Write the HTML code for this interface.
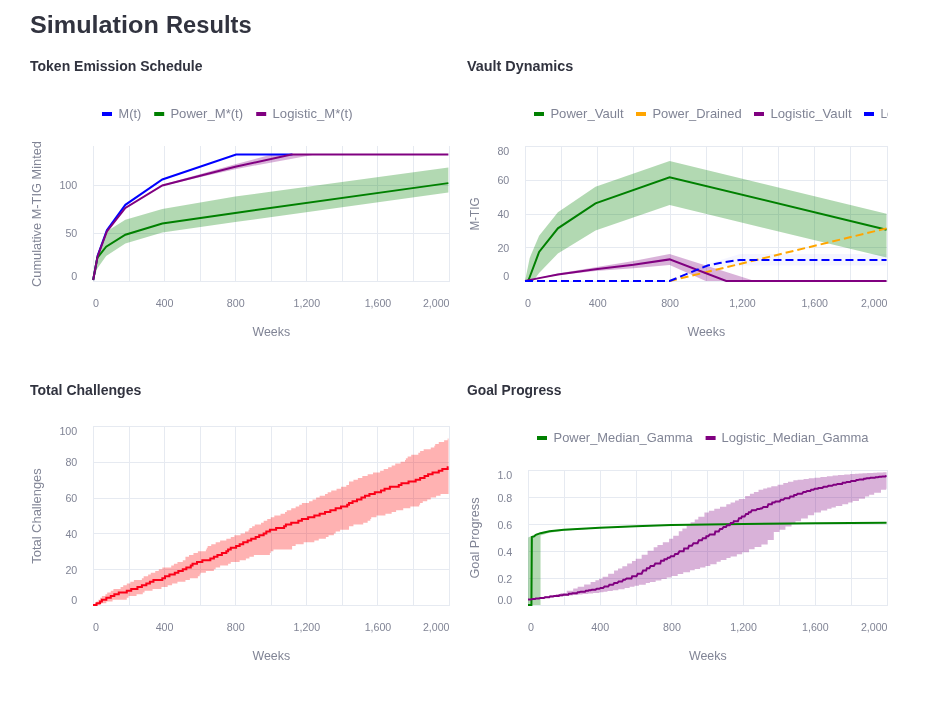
<!DOCTYPE html>
<html lang="en"><head><meta charset="utf-8"><title>Simulation Results</title>
<style>
html,body{margin:0;padding:0;background:#fff;}
body{width:935px;height:701px;position:relative;overflow:hidden;font-family:"Liberation Sans", sans-serif;color:#31333f;}
h1,h2{position:absolute;margin:0;white-space:nowrap;font-weight:700;line-height:1;transform-origin:0 0;}
h1{left:0;top:13.2px;font-size:24.4px;width:300px;height:25px;}
h1 span{position:absolute;top:0;transform-origin:0 0;display:block;}
#t1{left:29.9px;transform:scaleX(1.033);}#t2{left:165.9px;transform:scaleX(0.971);}
h2{font-size:14px;}
#h-a{left:30px;top:58.75px;}#h-b{left:467px;top:58.75px;transform:scaleX(1.027);}#h-c{left:30px;top:382.75px;transform:scaleX(1.003);}#h-d{left:467px;top:382.75px;transform:scaleX(0.987);}
svg{position:absolute;left:0;top:0;font-family:"Liberation Sans", sans-serif;}
</style></head><body>
<h1 id="h-t"><span id="t1">Simulation</span> <span id="t2">Results</span></h1>
<h2 id="h-a">Token Emission Schedule</h2>
<h2 id="h-b">Vault Dynamics</h2>
<h2 id="h-c">Total Challenges</h2>
<h2 id="h-d">Goal Progress</h2>
<svg width="935" height="701" viewBox="0 0 935 701" role="img" aria-label="Simulation charts">
<defs>
<clipPath id="clip2"><rect x="460" y="90" width="428" height="270"/></clipPath>
<clipPath id="clip4"><rect x="460" y="400" width="428" height="301"/></clipPath>
</defs>
<g id="chart-emission">
<path d="M93.50,146.00V282.00M129.50,146.00V282.00M164.50,146.00V282.00M200.50,146.00V282.00M235.50,146.00V282.00M271.50,146.00V282.00M306.50,146.00V282.00M342.50,146.00V282.00M377.50,146.00V282.00M413.50,146.00V282.00M449.50,146.00V282.00M93.00,281.50H450.00M93.00,233.50H450.00M93.00,185.50H450.00" fill="none" stroke="#e6eaf1" stroke-width="1"/>
<path d="M93.00,281.00L97.27,254.48L106.16,231.82L125.36,219.77L162.33,208.97L235.22,196.62L448.37,167.41L448.37,192.48L235.22,222.08L162.33,232.59L125.36,243.49L106.16,255.93L97.27,268.46L93.00,281.00Z" fill="green" fill-opacity="0.3"/>
<path d="M93.00,281.00L97.62,256.22L106.87,231.15L125.36,207.43L162.33,184.67L199.67,174.16L235.22,164.13L271.49,154.53L315.22,154.53L315.22,154.53L235.22,169.14L199.67,177.24L162.33,186.11L125.36,208.39L106.87,231.72L97.62,256.41L93.00,281.00Z" fill="purple" fill-opacity="0.3"/>
<path d="M93.18,280.04L97.62,255.64L106.87,230.23L125.36,204.84L162.33,179.46L236.11,154.53L292.46,154.53" fill="none" stroke="blue" stroke-width="2"/>
<path d="M93.18,280.04L97.27,257.86L106.16,246.67L125.36,234.71L162.33,223.43L235.22,212.92L448.37,183.12" fill="none" stroke="green" stroke-width="2"/>
<path d="M93.18,280.04L97.62,256.31L106.87,231.44L125.36,207.91L162.33,185.44L235.22,166.83L291.40,154.53L448.37,154.53" fill="none" stroke="purple" stroke-width="2"/>
<text x="93.00" y="306.65" font-size="10.8" text-anchor="start" fill="#808495" font-weight="normal" textLength="6.00" lengthAdjust="spacingAndGlyphs">0</text>
<text x="164.61" y="306.65" font-size="10.8" text-anchor="middle" fill="#808495" font-weight="normal" textLength="17.90" lengthAdjust="spacingAndGlyphs">400</text>
<text x="235.72" y="306.65" font-size="10.8" text-anchor="middle" fill="#808495" font-weight="normal" textLength="17.90" lengthAdjust="spacingAndGlyphs">800</text>
<text x="306.83" y="306.65" font-size="10.8" text-anchor="middle" fill="#808495" font-weight="normal" textLength="26.60" lengthAdjust="spacingAndGlyphs">1,200</text>
<text x="377.94" y="306.65" font-size="10.8" text-anchor="middle" fill="#808495" font-weight="normal" textLength="26.60" lengthAdjust="spacingAndGlyphs">1,600</text>
<text x="449.55" y="306.65" font-size="10.8" text-anchor="end" fill="#808495" font-weight="normal" textLength="26.60" lengthAdjust="spacingAndGlyphs">2,000</text>
<text x="271.27" y="336.40" font-size="12.6" text-anchor="middle" fill="#808495" font-weight="normal" textLength="37.70" lengthAdjust="spacingAndGlyphs">Weeks</text>
<text x="77.30" y="279.65" font-size="10.8" text-anchor="end" fill="#808495" font-weight="normal" textLength="6.00" lengthAdjust="spacingAndGlyphs">0</text>
<text x="77.30" y="237.14" font-size="10.8" text-anchor="end" fill="#808495" font-weight="normal" textLength="11.90" lengthAdjust="spacingAndGlyphs">50</text>
<text x="77.30" y="188.92" font-size="10.8" text-anchor="end" fill="#808495" font-weight="normal" textLength="17.90" lengthAdjust="spacingAndGlyphs">100</text>
<text transform="translate(41.20,214.00) rotate(-90)" font-size="12.6" text-anchor="middle" fill="#808495" textLength="146.00" lengthAdjust="spacingAndGlyphs">Cumulative M-TIG Minted</text>
<rect x="102.00" y="112.00" width="10" height="4" fill="blue"/>
<text x="118.60" y="118.00" font-size="12.6" text-anchor="start" fill="#808495" font-weight="normal" textLength="22.60" lengthAdjust="spacingAndGlyphs">M(t)</text>
<rect x="154.20" y="112.00" width="10" height="4" fill="green"/>
<text x="170.40" y="118.00" font-size="12.6" text-anchor="start" fill="#808495" font-weight="normal" textLength="72.70" lengthAdjust="spacingAndGlyphs">Power_M*(t)</text>
<rect x="256.20" y="112.00" width="10" height="4" fill="purple"/>
<text x="272.60" y="118.00" font-size="12.6" text-anchor="start" fill="#808495" font-weight="normal" textLength="80.00" lengthAdjust="spacingAndGlyphs">Logistic_M*(t)</text>
</g>
<g id="chart-vault" clip-path="url(#clip2)">
<path d="M525.50,146.00V282.00M561.50,146.00V282.00M597.50,146.00V282.00M633.50,146.00V282.00M670.50,146.00V282.00M706.50,146.00V282.00M742.50,146.00V282.00M778.50,146.00V282.00M814.50,146.00V282.00M850.50,146.00V282.00M887.50,146.00V282.00M525.00,281.50H888.00M525.00,247.50H888.00M525.00,214.50H888.00M525.00,180.50H888.00M525.00,146.50H888.00" fill="none" stroke="#e6eaf1" stroke-width="1"/>
<path d="M525.00,281.00L529.70,257.88L539.10,235.78L557.90,212.15L595.50,186.67L669.62,161.02L886.55,213.67L886.55,257.54L669.62,205.06L595.50,230.38L557.90,253.49L539.10,272.90L533.32,281.00L525.00,281.00Z" fill="green" fill-opacity="0.3"/>
<path d="M525.00,281.00L557.90,273.57L595.50,267.16L633.47,261.09L669.62,254.00L754.77,281.00L705.77,281.00L669.62,264.97L633.47,268.18L595.50,270.88L557.90,275.26L525.00,281.00Z" fill="purple" fill-opacity="0.3"/>
<path d="M669.62,281.00L707.58,264.12L739.76,254.00L886.55,254.00L886.55,265.48L739.76,265.48L707.58,267.50L669.62,281.00Z" fill="blue" fill-opacity="0.04"/>
<path d="M525.00,281.00L528.07,281.00L528.98,278.98L539.10,251.97L557.90,228.35L595.50,203.38L669.62,177.22L886.55,229.70" fill="none" stroke="green" stroke-width="2"/>
<path d="M525.00,281.00L669.62,281.00L886.55,228.35" fill="none" stroke="orange" stroke-width="2" stroke-dasharray="8,4"/>
<path d="M525.00,281.00L539.10,278.13L557.90,274.42L595.50,269.19L633.47,264.80L669.62,259.40L726.20,281.00L886.55,281.00" fill="none" stroke="purple" stroke-width="2"/>
<path d="M525.00,281.00L669.62,281.00L707.58,265.48L719.69,262.94L739.76,259.91L886.55,259.91" fill="none" stroke="blue" stroke-width="2" stroke-dasharray="8,4"/>
<text x="525.00" y="306.65" font-size="10.8" text-anchor="start" fill="#808495" font-weight="normal" textLength="6.00" lengthAdjust="spacingAndGlyphs">0</text>
<text x="597.81" y="306.65" font-size="10.8" text-anchor="middle" fill="#808495" font-weight="normal" textLength="17.90" lengthAdjust="spacingAndGlyphs">400</text>
<text x="670.12" y="306.65" font-size="10.8" text-anchor="middle" fill="#808495" font-weight="normal" textLength="17.90" lengthAdjust="spacingAndGlyphs">800</text>
<text x="742.43" y="306.65" font-size="10.8" text-anchor="middle" fill="#808495" font-weight="normal" textLength="26.60" lengthAdjust="spacingAndGlyphs">1,200</text>
<text x="814.74" y="306.65" font-size="10.8" text-anchor="middle" fill="#808495" font-weight="normal" textLength="26.60" lengthAdjust="spacingAndGlyphs">1,600</text>
<text x="887.55" y="306.65" font-size="10.8" text-anchor="end" fill="#808495" font-weight="normal" textLength="26.60" lengthAdjust="spacingAndGlyphs">2,000</text>
<text x="706.27" y="336.40" font-size="12.6" text-anchor="middle" fill="#808495" font-weight="normal" textLength="37.70" lengthAdjust="spacingAndGlyphs">Weeks</text>
<text x="509.30" y="279.65" font-size="10.8" text-anchor="end" fill="#808495" font-weight="normal" textLength="6.00" lengthAdjust="spacingAndGlyphs">0</text>
<text x="509.30" y="251.60" font-size="10.8" text-anchor="end" fill="#808495" font-weight="normal" textLength="11.90" lengthAdjust="spacingAndGlyphs">20</text>
<text x="509.30" y="217.85" font-size="10.8" text-anchor="end" fill="#808495" font-weight="normal" textLength="11.90" lengthAdjust="spacingAndGlyphs">40</text>
<text x="509.30" y="184.10" font-size="10.8" text-anchor="end" fill="#808495" font-weight="normal" textLength="11.90" lengthAdjust="spacingAndGlyphs">60</text>
<text x="509.30" y="154.95" font-size="10.8" text-anchor="end" fill="#808495" font-weight="normal" textLength="11.90" lengthAdjust="spacingAndGlyphs">80</text>
<text transform="translate(479.20,214.00) rotate(-90)" font-size="12.6" text-anchor="middle" fill="#808495" textLength="33.00" lengthAdjust="spacingAndGlyphs">M-TIG</text>
<rect x="534.00" y="112.00" width="10" height="4" fill="green"/>
<text x="550.40" y="118.00" font-size="12.6" text-anchor="start" fill="#808495" font-weight="normal" textLength="73.20" lengthAdjust="spacingAndGlyphs">Power_Vault</text>
<rect x="636.00" y="112.00" width="10" height="4" fill="orange"/>
<text x="652.40" y="118.00" font-size="12.6" text-anchor="start" fill="#808495" font-weight="normal" textLength="89.20" lengthAdjust="spacingAndGlyphs">Power_Drained</text>
<rect x="754.00" y="112.00" width="10" height="4" fill="purple"/>
<text x="770.40" y="118.00" font-size="12.6" text-anchor="start" fill="#808495" font-weight="normal" textLength="81.20" lengthAdjust="spacingAndGlyphs">Logistic_Vault</text>
<rect x="864.00" y="112.00" width="10" height="4" fill="blue"/>
<text x="880.40" y="118.00" font-size="12.6" text-anchor="start" fill="#808495" font-weight="normal" textLength="88.00" lengthAdjust="spacingAndGlyphs">Logistic_Drained</text>
</g>
<g id="chart-challenges">
<path d="M93.50,426.00V606.00M129.50,426.00V606.00M164.50,426.00V606.00M200.50,426.00V606.00M235.50,426.00V606.00M271.50,426.00V606.00M306.50,426.00V606.00M342.50,426.00V606.00M377.50,426.00V606.00M413.50,426.00V606.00M449.50,426.00V606.00M93.00,605.50H450.00M93.00,569.50H450.00M93.00,533.50H450.00M93.00,498.50H450.00M93.00,462.50H450.00M93.00,426.50H450.00" fill="none" stroke="#e6eaf1" stroke-width="1"/>
<path d="M93.00,605.00L94.78,605.00L94.78,603.21L96.56,603.21L96.56,601.42L98.33,601.42L98.33,599.63L100.11,599.63L100.11,597.84L101.89,597.84L101.89,596.05L105.44,596.05L105.44,594.26L107.22,594.26L107.22,592.47L110.78,592.47L110.78,590.68L113.44,590.68L113.44,588.89L120.56,588.89L120.56,587.10L123.22,587.10L123.22,585.31L126.78,585.31L126.78,583.52L130.33,583.52L130.33,581.73L133.89,581.73L133.89,579.94L141.89,579.94L141.89,578.15L143.67,578.15L143.67,576.36L148.11,576.36L148.11,574.57L150.78,574.57L150.78,572.78L155.22,572.78L155.22,570.99L158.78,570.99L158.78,569.20L162.33,569.20L162.33,567.41L171.22,567.41L171.22,565.62L173.89,565.62L173.89,563.83L177.44,563.83L177.44,562.04L182.78,562.04L182.78,560.25L185.44,560.25L185.44,556.67L189.00,556.67L189.00,554.88L193.44,554.88L193.44,553.09L197.89,553.09L197.89,551.30L205.89,551.30L205.89,549.51L206.78,549.51L206.78,547.72L207.66,547.72L207.66,545.93L211.22,545.93L211.22,544.14L215.66,544.14L215.66,542.35L220.11,542.35L220.11,540.56L226.33,540.56L226.33,538.77L230.78,538.77L230.78,536.98L234.33,536.98L234.33,535.19L240.55,535.19L240.55,533.40L245.00,533.40L245.00,531.61L248.55,531.61L248.55,529.82L249.44,529.82L249.44,528.03L252.11,528.03L252.11,526.24L254.78,526.24L254.78,524.45L261.00,524.45L261.00,522.66L263.66,522.66L263.66,520.87L267.22,520.87L267.22,519.08L270.77,519.08L270.77,517.29L274.33,517.29L274.33,515.50L280.55,515.50L280.55,513.71L285.00,513.71L285.00,511.92L286.77,511.92L286.77,510.13L291.22,510.13L291.22,508.34L295.66,508.34L295.66,506.55L299.22,506.55L299.22,504.76L301.89,504.76L301.89,502.97L309.00,502.97L309.00,501.18L312.55,501.18L312.55,499.39L316.11,499.39L316.11,497.60L319.66,497.60L319.66,495.81L325.00,495.81L325.00,494.02L327.66,494.02L327.66,492.23L331.22,492.23L331.22,490.44L336.55,490.44L336.55,488.65L341.00,488.65L341.00,486.86L346.33,486.86L346.33,485.07L349.00,485.07L349.00,481.49L353.44,481.49L353.44,479.70L357.88,479.70L357.88,477.91L362.33,477.91L362.33,476.12L367.66,476.12L367.66,474.33L373.00,474.33L373.00,472.54L380.11,472.54L380.11,470.75L383.66,470.75L383.66,468.96L388.11,468.96L388.11,467.17L391.66,467.17L391.66,465.38L395.22,465.38L395.22,463.59L400.55,463.59L400.55,461.80L405.00,461.80L405.00,460.01L405.88,460.01L405.88,458.22L407.66,458.22L407.66,456.43L411.22,456.43L411.22,454.64L418.33,454.64L418.33,452.85L420.11,452.85L420.11,451.06L423.66,451.06L423.66,449.27L430.77,449.27L430.77,447.48L434.33,447.48L434.33,445.69L435.22,445.69L435.22,443.90L438.77,443.90L438.77,442.11L444.11,442.11L444.11,440.32L447.66,440.32L447.66,438.53L448.55,438.53L448.55,494.02L440.55,494.02L440.55,495.81L436.11,495.81L436.11,497.60L430.77,497.60L430.77,499.39L427.22,499.39L427.22,501.18L422.77,501.18L422.77,502.97L420.11,502.97L420.11,504.76L419.22,504.76L419.22,506.55L410.33,506.55L410.33,508.34L403.22,508.34L403.22,510.13L396.11,510.13L396.11,511.92L391.66,511.92L391.66,513.71L385.44,513.71L385.44,515.50L376.55,515.50L376.55,517.29L371.22,517.29L371.22,519.08L370.33,519.08L370.33,520.87L367.66,520.87L367.66,522.66L363.22,522.66L363.22,524.45L353.44,524.45L353.44,526.24L349.00,526.24L349.00,529.82L340.11,529.82L340.11,531.61L335.66,531.61L335.66,533.40L333.89,533.40L333.89,535.19L328.55,535.19L328.55,536.98L325.89,536.98L325.89,538.77L318.77,538.77L318.77,540.56L314.33,540.56L314.33,542.35L303.66,542.35L303.66,544.14L295.66,544.14L295.66,545.93L292.11,545.93L292.11,549.51L273.44,549.51L273.44,551.30L270.77,551.30L270.77,553.09L269.89,553.09L269.89,554.88L253.89,554.88L253.89,556.67L249.44,556.67L249.44,558.46L245.89,558.46L245.89,560.25L239.66,560.25L239.66,562.04L230.78,562.04L230.78,563.83L228.11,563.83L228.11,565.62L220.11,565.62L220.11,567.41L215.66,567.41L215.66,569.20L213.89,569.20L213.89,570.99L205.89,570.99L205.89,572.78L200.55,572.78L200.55,574.57L199.67,574.57L199.67,576.36L197.89,576.36L197.89,578.15L189.89,578.15L189.89,579.94L185.44,579.94L185.44,581.73L177.44,581.73L177.44,583.52L172.11,583.52L172.11,585.31L167.67,585.31L167.67,587.10L161.44,587.10L161.44,588.89L152.55,588.89L152.55,590.68L144.55,590.68L144.55,592.47L142.78,592.47L142.78,594.26L136.55,594.26L136.55,596.05L128.56,596.05L128.56,597.84L126.78,597.84L126.78,599.63L112.56,599.63L112.56,601.42L106.33,601.42L106.33,603.21L100.11,603.21L100.11,605.00L93.00,605.00Z" fill="#ff0000" fill-opacity="0.3"/>
<path d="M93.00,605.00L96.56,605.00L96.56,603.21L100.11,603.21L100.11,601.42L101.89,601.42L101.89,599.63L106.33,599.63L106.33,597.84L110.78,597.84L110.78,596.05L114.33,596.05L114.33,594.26L118.78,594.26L118.78,592.47L126.78,592.47L126.78,590.68L131.22,590.68L131.22,588.89L137.44,588.89L137.44,587.10L141.89,587.10L141.89,585.31L146.33,585.31L146.33,583.52L149.89,583.52L149.89,581.73L153.44,581.73L153.44,579.94L162.33,579.94L162.33,578.15L165.00,578.15L165.00,576.36L169.44,576.36L169.44,574.57L174.78,574.57L174.78,572.78L178.33,572.78L178.33,570.99L182.78,570.99L182.78,569.20L186.33,569.20L186.33,567.41L190.78,567.41L190.78,565.62L192.55,565.62L192.55,563.83L197.00,563.83L197.00,562.04L202.33,562.04L202.33,560.25L210.33,560.25L210.33,558.46L213.89,558.46L213.89,556.67L217.44,556.67L217.44,554.88L221.89,554.88L221.89,553.09L226.33,553.09L226.33,551.30L228.11,551.30L228.11,549.51L230.78,549.51L230.78,547.72L236.11,547.72L236.11,545.93L239.66,545.93L239.66,544.14L243.22,544.14L243.22,542.35L247.66,542.35L247.66,540.56L251.22,540.56L251.22,538.77L255.66,538.77L255.66,536.98L259.22,536.98L259.22,535.19L263.66,535.19L263.66,533.40L266.33,533.40L266.33,531.61L269.89,531.61L269.89,529.82L276.11,529.82L276.11,528.03L284.11,528.03L284.11,526.24L285.89,526.24L285.89,524.45L291.22,524.45L291.22,522.66L298.33,522.66L298.33,520.87L301.89,520.87L301.89,519.08L308.11,519.08L308.11,517.29L314.33,517.29L314.33,515.50L319.66,515.50L319.66,513.71L325.00,513.71L325.00,511.92L330.33,511.92L330.33,510.13L335.66,510.13L335.66,508.34L341.00,508.34L341.00,506.55L347.22,506.55L347.22,504.76L349.00,504.76L349.00,502.97L352.55,502.97L352.55,501.18L357.00,501.18L357.00,499.39L361.44,499.39L361.44,497.60L365.00,497.60L365.00,495.81L369.44,495.81L369.44,494.02L374.77,494.02L374.77,492.23L381.00,492.23L381.00,490.44L384.55,490.44L384.55,488.65L389.88,488.65L389.88,486.86L398.77,486.86L398.77,485.07L401.44,485.07L401.44,483.28L408.55,483.28L408.55,481.49L415.66,481.49L415.66,479.70L420.11,479.70L420.11,477.91L424.55,477.91L424.55,476.12L428.11,476.12L428.11,474.33L432.55,474.33L432.55,472.54L438.77,472.54L438.77,470.75L442.33,470.75L442.33,468.96L447.66,468.96L447.66,467.17L448.55,467.17" fill="none" stroke="#fb0018" stroke-width="2" stroke-linejoin="miter"/>
<text x="93.00" y="630.65" font-size="10.8" text-anchor="start" fill="#808495" font-weight="normal" textLength="6.00" lengthAdjust="spacingAndGlyphs">0</text>
<text x="164.61" y="630.65" font-size="10.8" text-anchor="middle" fill="#808495" font-weight="normal" textLength="17.90" lengthAdjust="spacingAndGlyphs">400</text>
<text x="235.72" y="630.65" font-size="10.8" text-anchor="middle" fill="#808495" font-weight="normal" textLength="17.90" lengthAdjust="spacingAndGlyphs">800</text>
<text x="306.83" y="630.65" font-size="10.8" text-anchor="middle" fill="#808495" font-weight="normal" textLength="26.60" lengthAdjust="spacingAndGlyphs">1,200</text>
<text x="377.94" y="630.65" font-size="10.8" text-anchor="middle" fill="#808495" font-weight="normal" textLength="26.60" lengthAdjust="spacingAndGlyphs">1,600</text>
<text x="449.55" y="630.65" font-size="10.8" text-anchor="end" fill="#808495" font-weight="normal" textLength="26.60" lengthAdjust="spacingAndGlyphs">2,000</text>
<text x="271.27" y="660.40" font-size="12.6" text-anchor="middle" fill="#808495" font-weight="normal" textLength="37.70" lengthAdjust="spacingAndGlyphs">Weeks</text>
<text x="77.30" y="603.65" font-size="10.8" text-anchor="end" fill="#808495" font-weight="normal" textLength="6.00" lengthAdjust="spacingAndGlyphs">0</text>
<text x="77.30" y="573.55" font-size="10.8" text-anchor="end" fill="#808495" font-weight="normal" textLength="11.90" lengthAdjust="spacingAndGlyphs">20</text>
<text x="77.30" y="537.75" font-size="10.8" text-anchor="end" fill="#808495" font-weight="normal" textLength="11.90" lengthAdjust="spacingAndGlyphs">40</text>
<text x="77.30" y="501.95" font-size="10.8" text-anchor="end" fill="#808495" font-weight="normal" textLength="11.90" lengthAdjust="spacingAndGlyphs">60</text>
<text x="77.30" y="466.15" font-size="10.8" text-anchor="end" fill="#808495" font-weight="normal" textLength="11.90" lengthAdjust="spacingAndGlyphs">80</text>
<text x="77.30" y="434.95" font-size="10.8" text-anchor="end" fill="#808495" font-weight="normal" textLength="17.90" lengthAdjust="spacingAndGlyphs">100</text>
<text transform="translate(41.20,516.00) rotate(-90)" font-size="12.6" text-anchor="middle" fill="#808495" textLength="95.50" lengthAdjust="spacingAndGlyphs">Total Challenges</text>
</g>
<g id="chart-goal" clip-path="url(#clip4)">
<path d="M528.50,470.00V606.00M564.50,470.00V606.00M600.50,470.00V606.00M636.50,470.00V606.00M671.50,470.00V606.00M707.50,470.00V606.00M743.50,470.00V606.00M779.50,470.00V606.00M815.50,470.00V606.00M851.50,470.00V606.00M887.50,470.00V606.00M528.00,605.50H888.00M528.00,578.50H888.00M528.00,551.50H888.00M528.00,524.50H888.00M528.00,497.50H888.00M528.00,470.50H888.00" fill="none" stroke="#e6eaf1" stroke-width="1"/>
<path d="M528.00,605.00L528.18,537.50L531.59,535.88L535.89,533.72L540.55,532.37L549.51,530.75L563.86,529.40L599.71,527.38L671.42,524.81L886.55,522.51L886.55,523.06L671.42,525.35L599.71,528.32L563.86,530.75L549.51,532.77L540.55,535.48L540.55,605.00L528.00,605.00Z" fill="green" fill-opacity="0.3"/>
<path d="M528.00,599.60L532.48,599.60L532.48,598.28L538.40,598.28L538.40,597.17L544.31,597.17L544.31,596.06L549.51,596.06L549.51,595.08L555.79,595.08L555.79,593.90L560.45,593.90L560.45,593.02L566.72,593.02L566.72,590.87L573.18,590.87L573.18,588.48L577.66,588.48L577.66,586.83L584.11,586.83L584.11,584.45L590.57,584.45L590.57,582.07L595.41,582.07L595.41,580.28L598.99,580.28L598.99,578.66L602.58,578.66L602.58,576.74L608.14,576.74L608.14,573.77L614.05,573.77L614.05,570.61L618.00,570.61L618.00,568.50L622.30,568.50L622.30,566.20L627.14,566.20L627.14,563.61L631.98,563.61L631.98,561.03L635.74,561.03L635.74,558.67L641.66,558.67L641.66,554.75L647.58,554.75L647.58,550.83L653.67,550.83L653.67,547.13L657.44,547.13L657.44,545.12L662.81,545.12L662.81,542.24L669.09,542.24L669.09,538.85L673.21,538.85L673.21,535.65L678.77,535.65L678.77,531.34L682.36,531.34L682.36,528.56L686.66,528.56L686.66,525.22L690.60,525.22L690.60,522.36L694.73,522.36L694.73,519.38L698.31,519.38L698.31,516.79L704.41,516.79L704.41,512.38L708.89,512.38L708.89,510.66L714.27,510.66L714.27,508.76L720.00,508.76L720.00,506.73L726.28,506.73L726.28,504.26L730.58,504.26L730.58,502.45L735.06,502.45L735.06,500.56L738.83,500.56L738.83,498.97L745.10,498.97L745.10,496.09L749.94,496.09L749.94,493.79L753.89,493.79L753.89,491.92L758.55,491.92L758.55,489.71L763.21,489.71L763.21,488.48L767.15,488.48L767.15,487.44L771.28,487.44L771.28,486.36L777.55,486.36L777.55,484.69L783.29,484.69L783.29,483.09L787.95,483.09L787.95,481.79L793.33,481.79L793.33,480.29L797.63,480.29L797.63,479.63L803.55,479.63L803.55,478.96L808.74,478.96L808.74,478.37L814.30,478.37L814.30,477.73L820.40,477.73L820.40,476.99L826.85,476.99L826.85,476.22L832.59,476.22L832.59,475.58L837.97,475.58L837.97,475.05L844.24,475.05L844.24,474.44L849.98,474.44L849.98,473.96L855.00,473.96L855.00,473.69L858.58,473.69L858.58,473.50L862.53,473.50L862.53,473.29L867.01,473.29L867.01,473.06L873.28,473.06L873.28,472.73L876.87,472.73L876.87,472.54L883.14,472.54L883.14,472.21L886.55,472.21L886.55,472.16L886.55,488.63L886.55,488.63L886.19,488.63L886.19,489.84L880.99,489.84L880.99,492.71L874.18,492.71L874.18,494.83L869.16,494.83L869.16,496.51L865.04,496.51L865.04,498.66L858.94,498.66L858.94,500.89L852.67,500.89L852.67,502.47L848.19,502.47L848.19,504.22L842.27,504.22L842.27,506.12L835.82,506.12L835.82,507.38L831.51,507.38L831.51,508.66L827.21,508.66L827.21,510.55L820.94,510.55L820.94,512.61L814.12,512.61L814.12,515.27L807.85,515.27L807.85,518.56L801.04,518.56L801.04,521.24L795.48,521.24L795.48,523.28L791.53,523.28L791.53,526.54L785.44,526.54L785.44,529.70L779.52,529.70L779.52,532.05L773.97,532.05L773.97,532.10L773.79,532.10L773.79,540.08L767.69,540.08L767.69,544.39L761.42,544.39L761.42,547.02L754.60,547.02L754.60,549.33L749.05,549.33L749.05,552.15L742.23,552.15L742.23,554.19L736.86,554.19L736.86,556.45L730.58,556.45L730.58,557.94L726.46,557.94L726.46,560.07L720.72,560.07L720.72,561.69L716.60,561.69L716.60,564.14L710.32,564.14L710.32,566.04L705.48,566.04L705.48,567.57L700.10,567.57L700.10,568.99L694.73,568.99L694.73,570.22L690.06,570.22L690.06,572.24L683.25,572.24L683.25,574.09L677.69,574.09L677.69,576.10L671.60,576.10L671.60,577.59L666.76,577.59L666.76,579.05L661.38,579.05L661.38,580.60L655.64,580.60L655.64,582.12L649.91,582.12L649.91,583.09L645.78,583.09L645.78,584.68L638.97,584.68L638.97,585.72L634.49,585.72L634.49,586.80L629.65,586.80L629.65,587.90L624.63,587.90L624.63,589.27L618.35,589.27L618.35,590.32L612.80,590.32L612.80,591.09L607.42,591.09L607.42,591.66L603.47,591.66L603.47,592.25L599.35,592.25L599.35,592.97L593.08,592.97L593.08,593.44L588.24,593.44L588.24,594.00L582.50,594.00L582.50,594.41L578.38,594.41L578.38,594.93L573.00,594.93L573.00,595.44L567.80,595.44L567.80,595.86L563.50,595.86L563.50,596.44L557.58,596.44L557.58,596.88L553.10,596.88L553.10,597.35L548.26,597.35L548.26,597.99L541.80,597.99L541.80,598.37L537.86,598.37L537.86,598.88L532.66,598.88L532.66,599.60L528.00,599.60Z" fill="purple" fill-opacity="0.3"/>
<path d="M528.00,605.00L531.41,605.00L531.85,537.10L534.10,536.42L535.89,534.80L540.55,533.18L549.51,531.29L563.86,529.80L599.71,527.78L635.56,526.29L671.42,525.08L743.13,524.00L814.84,523.33L886.55,522.78" fill="none" stroke="green" stroke-width="2"/>
<path d="M528.00,599.60L530.87,599.60L532.48,598.99L535.17,598.99L535.71,598.56L539.12,598.56L540.19,597.95L543.96,597.95L545.21,597.27L549.33,597.27L550.05,596.61L553.10,596.61L553.99,596.08L558.84,596.08L559.37,595.35L562.24,595.35L563.50,594.79L568.34,594.79L568.87,593.83L571.74,593.83L572.28,593.22L576.76,593.22L577.84,592.21L579.45,592.21L580.71,591.69L585.01,591.69L585.91,590.75L588.24,590.75L588.95,590.20L590.75,590.20L592.00,589.65L595.41,589.65L596.84,588.78L599.35,588.78L600.61,587.94L603.12,587.94L604.55,586.55L608.14,586.55L609.39,584.83L612.98,584.83L614.23,583.12L617.28,583.12L618.71,581.50L622.12,581.50L623.37,579.71L624.99,579.71L626.60,578.47L631.44,578.47L632.16,576.34L636.46,576.34L637.72,573.73L641.66,573.73L643.09,570.49L646.14,570.49L646.86,568.23L649.37,568.23L650.62,565.96L653.85,565.96L655.29,563.42L660.30,563.42L661.02,560.83L663.89,560.83L664.43,559.29L666.76,559.29L667.83,557.75L669.63,557.75L670.88,556.37L673.93,556.37L675.18,553.89L677.87,553.89L679.49,551.33L683.61,551.33L684.15,548.56L688.09,548.56L688.99,545.68L691.86,545.68L693.47,543.23L697.59,543.23L698.85,540.31L701.90,540.31L702.79,538.17L705.84,538.17L706.38,536.23L708.35,536.23L709.78,534.40L714.63,534.40L715.34,531.43L718.75,531.43L720.00,528.94L722.15,528.94L723.59,527.02L725.92,527.02L727.00,525.13L729.68,525.13L730.76,522.98L733.27,522.98L733.81,521.24L737.93,521.24L739.01,518.26L741.16,518.26L741.88,516.62L744.56,516.62L746.00,514.04L748.15,514.04L748.87,512.18L750.66,512.18L751.91,510.21L755.86,510.21L757.29,509.08L759.62,509.08L760.52,508.45L761.77,508.45L763.39,507.01L767.33,507.01L768.41,504.13L771.81,504.13L772.35,502.47L774.68,502.47L775.58,501.45L779.70,501.45L780.96,499.68L783.29,499.68L784.90,498.28L789.38,498.28L790.28,496.38L793.69,496.38L794.22,494.98L796.37,494.98L797.63,493.81L801.93,493.81L803.37,492.09L805.70,492.09L807.13,490.95L810.36,490.95L811.25,489.71L813.59,489.71L814.66,488.68L817.89,488.68L818.43,487.90L822.19,487.90L823.80,486.81L827.03,486.81L828.46,485.86L832.05,485.86L833.66,484.79L836.17,484.79L837.43,483.97L842.09,483.97L842.63,482.83L845.50,482.83L846.75,481.93L850.16,481.93L851.23,480.98L855.54,480.98L856.43,480.08L857.87,480.08L859.48,479.55L863.42,479.55L863.96,478.77L865.40,478.77L866.83,478.28L869.52,478.28L870.42,477.76L874.90,477.76L875.61,477.18L877.94,477.18L879.38,476.75L881.71,476.75L882.61,476.39L885.30,476.39L886.01,476.00L886.19,476.00L886.55,475.94" fill="none" stroke="purple" stroke-width="2"/>
<text x="528.00" y="630.65" font-size="10.8" text-anchor="start" fill="#808495" font-weight="normal" textLength="6.00" lengthAdjust="spacingAndGlyphs">0</text>
<text x="600.21" y="630.65" font-size="10.8" text-anchor="middle" fill="#808495" font-weight="normal" textLength="17.90" lengthAdjust="spacingAndGlyphs">400</text>
<text x="671.92" y="630.65" font-size="10.8" text-anchor="middle" fill="#808495" font-weight="normal" textLength="17.90" lengthAdjust="spacingAndGlyphs">800</text>
<text x="743.63" y="630.65" font-size="10.8" text-anchor="middle" fill="#808495" font-weight="normal" textLength="26.60" lengthAdjust="spacingAndGlyphs">1,200</text>
<text x="815.34" y="630.65" font-size="10.8" text-anchor="middle" fill="#808495" font-weight="normal" textLength="26.60" lengthAdjust="spacingAndGlyphs">1,600</text>
<text x="887.55" y="630.65" font-size="10.8" text-anchor="end" fill="#808495" font-weight="normal" textLength="26.60" lengthAdjust="spacingAndGlyphs">2,000</text>
<text x="707.77" y="660.40" font-size="12.6" text-anchor="middle" fill="#808495" font-weight="normal" textLength="37.70" lengthAdjust="spacingAndGlyphs">Weeks</text>
<text x="512.30" y="603.85" font-size="10.8" text-anchor="end" fill="#808495" font-weight="normal" textLength="14.90" lengthAdjust="spacingAndGlyphs">0.0</text>
<text x="512.30" y="583.25" font-size="10.8" text-anchor="end" fill="#808495" font-weight="normal" textLength="14.90" lengthAdjust="spacingAndGlyphs">0.2</text>
<text x="512.30" y="556.25" font-size="10.8" text-anchor="end" fill="#808495" font-weight="normal" textLength="14.90" lengthAdjust="spacingAndGlyphs">0.4</text>
<text x="512.30" y="529.25" font-size="10.8" text-anchor="end" fill="#808495" font-weight="normal" textLength="14.90" lengthAdjust="spacingAndGlyphs">0.6</text>
<text x="512.30" y="502.25" font-size="10.8" text-anchor="end" fill="#808495" font-weight="normal" textLength="14.90" lengthAdjust="spacingAndGlyphs">0.8</text>
<text x="512.30" y="478.95" font-size="10.8" text-anchor="end" fill="#808495" font-weight="normal" textLength="14.90" lengthAdjust="spacingAndGlyphs">1.0</text>
<text transform="translate(479.20,538.00) rotate(-90)" font-size="12.6" text-anchor="middle" fill="#808495" textLength="81.00" lengthAdjust="spacingAndGlyphs">Goal Progress</text>
<rect x="537.00" y="436.00" width="10" height="4" fill="green"/>
<text x="553.60" y="442.00" font-size="12.6" text-anchor="start" fill="#808495" font-weight="normal" textLength="139.00" lengthAdjust="spacingAndGlyphs">Power_Median_Gamma</text>
<rect x="705.60" y="436.00" width="10" height="4" fill="purple"/>
<text x="721.60" y="442.00" font-size="12.6" text-anchor="start" fill="#808495" font-weight="normal" textLength="147.00" lengthAdjust="spacingAndGlyphs">Logistic_Median_Gamma</text>
</g>
</svg>
</body></html>
